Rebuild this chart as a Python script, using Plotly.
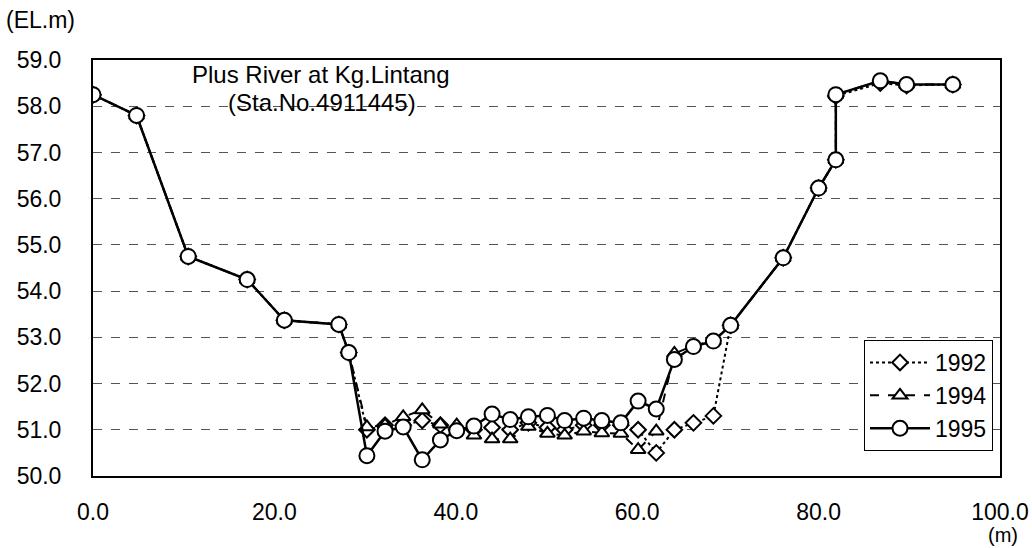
import plotly.graph_objects as go

# ---- data (distance in m, elevation in EL.m) ----
dist_1992 = [0.0, 4.8, 10.5, 17.0, 21.1, 27.1, 28.2, 30.2, 32.2, 34.2, 36.3, 38.3, 40.1, 42.0,
             44.0, 46.0, 48.0, 50.1, 52.0, 54.1, 56.1, 58.2, 60.1, 62.1, 64.1, 66.2, 68.4, 70.3,
             76.1, 80.0, 81.9, 81.9, 86.8, 89.7, 94.8]
elev_1992 = [58.25, 57.8, 54.75, 54.25, 53.37, 53.28, 52.67, 51.0, 51.1, 51.1, 51.2, 51.1, 51.0, 51.0,
             51.05, 51.0, 51.15, 51.05, 51.0, 51.1, 51.1, 51.1, 51.0, 50.5, 51.0, 51.15, 51.3, 53.26,
             54.72, 56.23, 56.84, 58.22, 58.5, 58.45, 58.47]

dist_1994 = [0.0, 4.8, 10.5, 17.0, 21.1, 27.1, 28.2, 30.2, 32.2, 34.2, 36.3, 38.3, 40.1, 42.0,
             44.0, 46.0, 48.0, 50.1, 52.0, 54.1, 56.1, 58.2, 60.1, 62.1, 64.1, 66.2, 68.4, 70.3,
             76.1, 80.0, 81.9, 81.9, 86.8, 89.7, 94.8]
elev_1994 = [58.25, 57.8, 54.75, 54.25, 53.37, 53.28, 52.67, 51.06, 51.1, 51.28, 51.43, 51.12, 51.1, 50.88,
             50.8, 50.8, 51.07, 50.92, 50.88, 50.97, 50.93, 50.92, 50.57, 50.97, 52.65, 52.82, 52.92, 53.26,
             54.72, 56.23, 56.84, 58.25, 58.55, 58.47, 58.47]

dist_1995 = [0.0, 4.8, 10.5, 17.0, 21.1, 27.1, 28.2, 30.2, 32.2, 34.2, 36.3, 38.3, 40.1, 42.0,
             44.0, 46.0, 48.0, 50.1, 52.0, 54.1, 56.1, 58.2, 60.1, 62.1, 64.1, 66.2, 68.4, 70.3,
             76.1, 80.0, 81.9, 81.9, 86.8, 89.7, 94.8]
elev_1995 = [58.25, 57.8, 54.75, 54.25, 53.37, 53.28, 52.67, 50.44, 50.97, 51.06, 50.35, 50.78, 50.98, 51.08,
             51.34, 51.22, 51.28, 51.31, 51.2, 51.25, 51.2, 51.15, 51.62, 51.45, 52.52, 52.8, 52.92, 53.26,
             54.72, 56.23, 56.84, 58.25, 58.55, 58.47, 58.47]

series_names = ["1992", "1994", "1995"]
x_ticks = [0, 20, 40, 60, 80, 100]
y_ticks = [50, 51, 52, 53, 54, 55, 56, 57, 58, 59]

FONT = "Liberation Sans"

PX0, PX1, PY0, PY1 = 93, 1000, 60, 476  # plot-area edges in page pixels


def px(X):
    return (X - PX0) / (PX1 - PX0)


def py(Y):
    return (PY1 - Y) / (PY1 - PY0)


fig = go.Figure()

fig.add_trace(go.Scatter(
    x=dist_1992, y=elev_1992, name=series_names[0], mode="lines+markers",
    line=dict(color="black", width=2, dash="dot"),
    marker=dict(symbol="diamond", size=12, color="white", line=dict(color="black", width=2)),
))
fig.add_trace(go.Scatter(
    x=dist_1994, y=elev_1994, name=series_names[1], mode="lines+markers",
    line=dict(color="black", width=2, dash="dash"),
    marker=dict(symbol="triangle-up", size=13, color="white", line=dict(color="black", width=2)),
))
fig.add_trace(go.Scatter(
    x=dist_1995, y=elev_1995, name=series_names[2], mode="lines+markers",
    line=dict(color="black", width=2.5),
    marker=dict(symbol="circle", size=15, color="white", line=dict(color="black", width=2)),
))

fig.update_xaxes(
    range=[0, 100], tickvals=x_ticks, ticktext=[f"{v:.1f}" for v in x_ticks],
    showgrid=False, zeroline=False, showline=True, mirror=True, automargin=False,
    linecolor="black", linewidth=2, ticks="", ticklabelstandoff=14,
    tickfont=dict(family=FONT, size=23, color="black"),
)
fig.update_yaxes(
    range=[50, 59], tickvals=y_ticks, ticktext=[f"{v:.1f}" for v in y_ticks],
    showgrid=True, gridcolor="#555555", griddash="dash", gridwidth=1,
    zeroline=False, showline=True, mirror=True, automargin=False,
    linecolor="black", linewidth=2, ticks="", ticklabelstandoff=25,
    tickfont=dict(family=FONT, size=23, color="black"),
)

fig.add_annotation(text="Plus River at Kg.Lintang", xref="paper", yref="paper",
                   x=px(320), y=py(74), xanchor="center", yanchor="middle", showarrow=False,
                   font=dict(family=FONT, size=24, color="black"))
fig.add_annotation(text="(Sta.No.4911445)", xref="paper", yref="paper",
                   x=px(322), y=py(103), xanchor="center", yanchor="middle", showarrow=False,
                   font=dict(family=FONT, size=24, color="black"))
fig.add_annotation(text="(EL.m)", xref="paper", yref="paper",
                   x=px(4), y=py(20), xanchor="left", yanchor="middle", showarrow=False,
                   font=dict(family=FONT, size=23, color="black"))
fig.add_annotation(text="(m)", xref="paper", yref="paper",
                   x=px(1003), y=py(535), xanchor="center", yanchor="middle", showarrow=False,
                   font=dict(family=FONT, size=20, color="black"))

fig.update_layout(
    width=1032, height=548,
    margin=dict(l=PX0, r=1032 - PX1, t=PY0, b=548 - PY1, autoexpand=False),
    paper_bgcolor="white", plot_bgcolor="white",
    showlegend=True,
    legend=dict(
        x=px(993), y=py(340), xanchor="right", yanchor="top",
        bgcolor="white", bordercolor="black", borderwidth=1,
        font=dict(family=FONT, size=23, color="black"),
        itemwidth=60, tracegroupgap=0,
    ),
)

fig.write_html(
    "out.html",
    config={"displayModeBar": False},
    post_script="document.body.style.margin='0';document.body.style.overflow='hidden';",
)
